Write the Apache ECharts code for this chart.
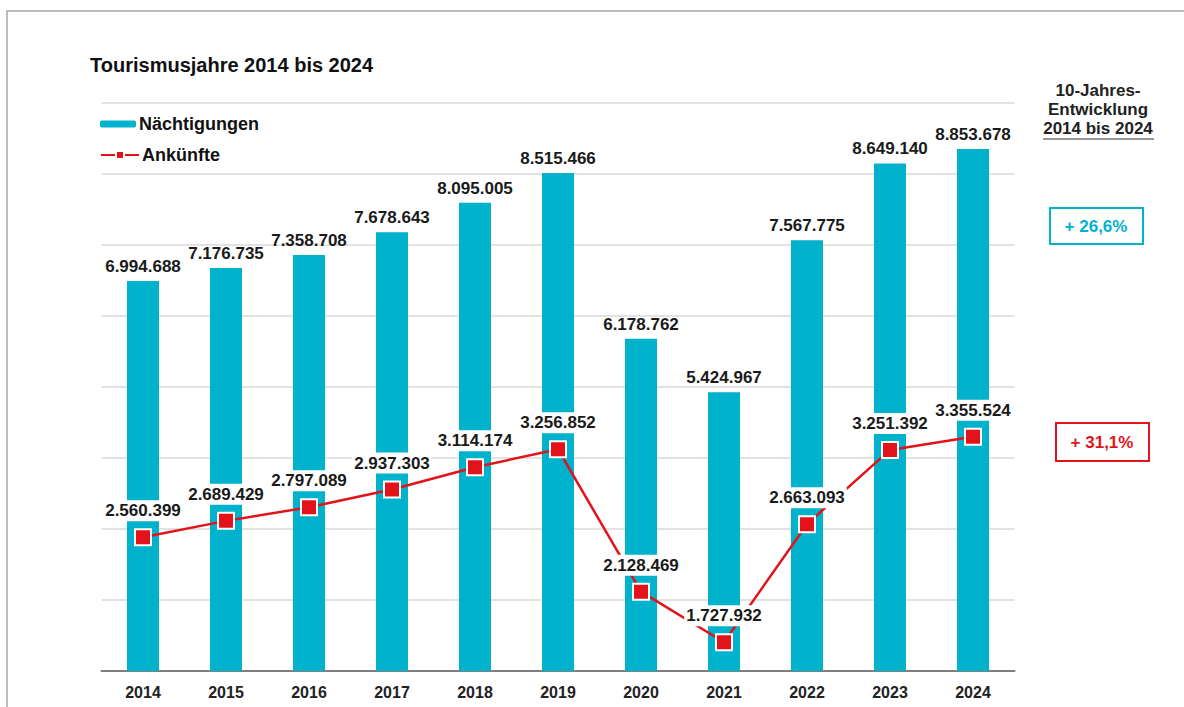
<!DOCTYPE html>
<html>
<head>
<meta charset="utf-8">
<script src="https://cdn.jsdelivr.net/npm/echarts@6/dist/echarts.min.js"></script>
<style>
html,body{margin:0;padding:0;background:#fff;}
#main{width:1184px;height:707px;}
</style>
</head>
<body>
<div id="main"></div>
<script>
var years = ['2014','2015','2016','2017','2018','2019','2020','2021','2022','2023','2024'];
var naechtigungen = [6994688, 7176735, 7358708, 7678643, 8095005, 8515466, 6178762, 5424967, 7567775, 8649140, 8853678];
var ankuenfte = [2560399, 2689429, 2797089, 2937303, 3114174, 3256852, 2128469, 1727932, 2663093, 3251392, 3355524];
var entwicklung = ['+ 26,6%', '+ 31,1%'];

var teal = '#00b2cb';
var red = '#e3131b';
var font = '"Liberation Sans", Arial, sans-serif';

function fmt(v){
    return String(v).replace(/\B(?=(\d{3})+(?!\d))/g, '.');
}

var myChart = echarts.init(document.getElementById('main'), null, {renderer: 'svg'});
var option = {
    backgroundColor: '#fff',
    textStyle: {fontFamily: font},
    title: {
        text: 'Tourismusjahre 2014 bis 2024',
        left: 85,
        top: 50,
        textStyle: {fontSize: 20, fontWeight: 'bold', color: '#111', fontFamily: font}
    },
    legend: [
        {
            data: ['Nächtigungen'],
            left: 95, top: 110,
            itemWidth: 36, itemHeight: 7, itemGap: 4,
            textStyle: {fontSize: 18, fontWeight: 'bold', color: '#111', fontFamily: font, padding: [0, 0, 0, -2]}
        },
        {
            data: ['Ankünfte'],
            left: 95, top: 141,
            itemWidth: 38, itemHeight: 10,
            textStyle: {fontSize: 18, fontWeight: 'bold', color: '#111', fontFamily: font, padding: [0, 0, 0, -2]}
        }
    ],
    grid: {left: 101.5, right: 169.5, top: 103, bottom: 36},
    xAxis: {
        type: 'category',
        data: years,
        axisTick: {show: false},
        axisLine: {lineStyle: {color: '#7f7f7f', width: 2}},
        axisLabel: {fontSize: 16, fontWeight: 'bold', color: '#222', margin: 13, fontFamily: font}
    },
    yAxis: [
        {
            type: 'value',
            min: 1500000, max: 9500000, interval: 1000000,
            axisLabel: {show: false},
            axisLine: {show: false},
            axisTick: {show: false},
            splitLine: {lineStyle: {color: '#d9d9d9', width: 1.5}}
        },
        {
            type: 'value',
            min: 1500000, max: 6000000,
            show: false,
            splitLine: {show: false}
        }
    ],
    series: [
        {
            name: 'Nächtigungen',
            type: 'bar',
            data: naechtigungen,
            barWidth: 32,
            itemStyle: {color: teal},
            label: {
                show: true, position: 'top', distance: 6,
                fontSize: 17, fontWeight: 'bold', color: '#1a1a1a', fontFamily: font,
                formatter: function(p){ return fmt(p.value); }
            }
        },
        {
            name: 'Ankünfte',
            type: 'line',
            yAxisIndex: 1,
            data: ankuenfte,
            symbol: 'rect',
            symbolSize: 16,
            lineStyle: {color: red, width: 2.5},
            itemStyle: {color: red, borderColor: '#fff', borderWidth: 2},
            label: {
                show: true, position: 'top', distance: 7,
                fontSize: 17, fontWeight: 'bold', color: '#1a1a1a', fontFamily: font,
                backgroundColor: '#fff', padding: [2, 2],
                formatter: function(p){ return fmt(p.value); }
            }
        }
    ],
    graphic: [
        {
            type: 'polyline',
            shape: {points: [[7, 707], [7, 11], [1184, 11]]},
            style: {stroke: '#a6a6a6', lineWidth: 1.5, fill: null}
        },
        {
            type: 'text',
            x: 1098, y: 81,
            style: {
                text: '10-Jahres-\nEntwicklung\n2014 bis 2024',
                align: 'center',
                fontSize: 17, fontWeight: 'bold', fill: '#222',
                lineHeight: 19, fontFamily: font
            }
        },
        {
            type: 'line',
            shape: {x1: 1043, y1: 139, x2: 1154, y2: 139},
            style: {stroke: '#333', lineWidth: 1.2}
        },
        {
            type: 'rect',
            shape: {x: 1050, y: 208, width: 93, height: 36},
            style: {fill: '#fff', stroke: teal, lineWidth: 2}
        },
        {
            type: 'text',
            x: 1096, y: 226,
            style: {
                text: entwicklung[0], align: 'center', verticalAlign: 'middle',
                fontSize: 17, fontWeight: 'bold', fill: teal, fontFamily: font
            }
        },
        {
            type: 'rect',
            shape: {x: 1056, y: 423, width: 93, height: 38},
            style: {fill: '#fff', stroke: red, lineWidth: 2}
        },
        {
            type: 'text',
            x: 1102, y: 442,
            style: {
                text: entwicklung[1], align: 'center', verticalAlign: 'middle',
                fontSize: 17, fontWeight: 'bold', fill: red, fontFamily: font
            }
        }
    ]
};
myChart.setOption(option, true);
</script>
</body>
</html>
